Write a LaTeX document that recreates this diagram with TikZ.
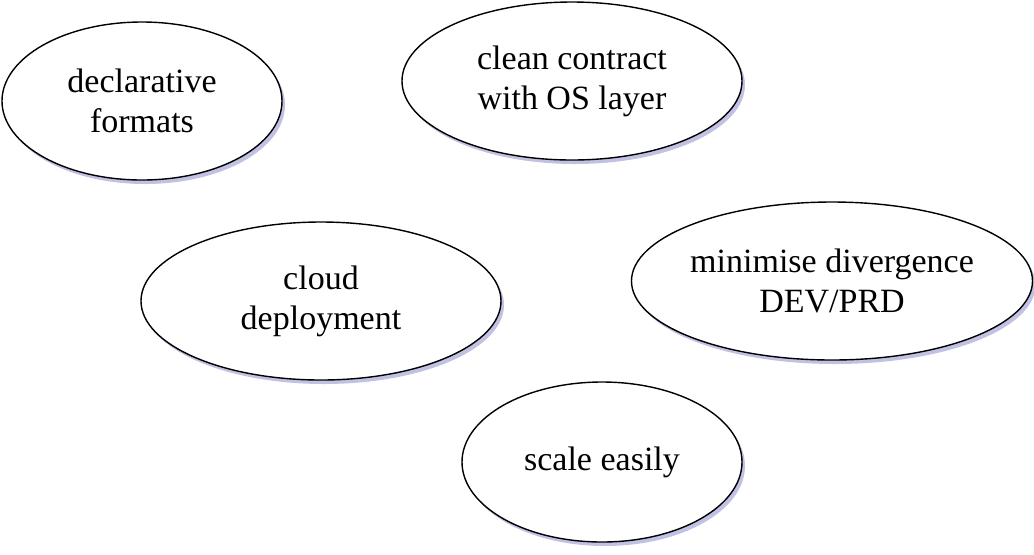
\documentclass[tikz,border=0pt]{standalone}
\usepackage{fontspec}
\setmainfont{Liberation Serif}
\usetikzlibrary{shapes.geometric,shadows}
\begin{document}
\begin{tikzpicture}[x=0.5pt,y=-0.5pt,
  goal/.style={ellipse,draw=black,fill=white,line width=0.7pt,inner sep=0pt,align=center,
    minimum height=79pt,font=\fontsize{17}{20}\selectfont,
    drop shadow={shadow xshift=1.5pt,shadow yshift=-2pt,fill=blue!40!gray,opacity=0.35}}]
  \useasboundingbox (0,0) rectangle (1034,554);

  \node[goal,minimum width=140pt] (DF) at (142, 101) {declarative\\formats};
  \node[goal,minimum width=170pt] (CC) at (572, 81) {clean contract\\with OS layer};
  \node[goal,minimum width=180pt] (CD) at (321, 301) {cloud\\deployment};
  \node[goal,minimum width=190pt] (MD) at (832, 281) {minimise divergence\\DEV/PRD};
  \node[goal,minimum width=140pt,minimum height=80pt] (SE) at (602, 462) {scale easily};
\end{tikzpicture}
\end{document}
